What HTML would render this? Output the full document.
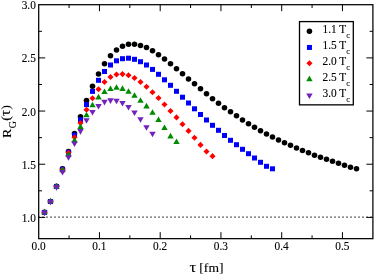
<!DOCTYPE html><html><head><meta charset="utf-8"><style>html,body{margin:0;padding:0;background:#fff;overflow:hidden}svg{display:block;will-change:transform}text{font-family:"Liberation Serif",serif;fill:#000;stroke:#000;stroke-width:0.12px;stroke-linejoin:round}</style></head><body>
<svg width="374" height="276" viewBox="0 0 374 276">
<rect width="374" height="276" fill="#fff"/>
<line x1="38.4" y1="217.1" x2="372.9" y2="217.1" stroke="#000" stroke-width="1.3" stroke-dasharray="1.2 2.8"/>
<g fill="#000000">
<circle cx="44.50" cy="212.40" r="2.78"/>
<circle cx="50.50" cy="201.50" r="2.78"/>
<circle cx="56.50" cy="186.30" r="2.78"/>
<circle cx="62.50" cy="168.90" r="2.78"/>
<circle cx="68.50" cy="151.60" r="2.78"/>
<circle cx="74.50" cy="133.50" r="2.78"/>
<circle cx="80.50" cy="116.70" r="2.78"/>
<circle cx="86.50" cy="100.50" r="2.78"/>
<circle cx="92.50" cy="86.20" r="2.78"/>
<circle cx="98.50" cy="74.00" r="2.78"/>
<circle cx="104.50" cy="63.70" r="2.78"/>
<circle cx="110.50" cy="55.80" r="2.78"/>
<circle cx="116.50" cy="50.00" r="2.78"/>
<circle cx="122.50" cy="46.20" r="2.78"/>
<circle cx="128.50" cy="44.20" r="2.78"/>
<circle cx="134.50" cy="44.20" r="2.78"/>
<circle cx="140.50" cy="45.50" r="2.78"/>
<circle cx="146.50" cy="47.50" r="2.78"/>
<circle cx="152.50" cy="50.80" r="2.78"/>
<circle cx="158.50" cy="54.70" r="2.78"/>
<circle cx="164.50" cy="59.00" r="2.78"/>
<circle cx="170.50" cy="63.80" r="2.78"/>
<circle cx="176.50" cy="68.80" r="2.78"/>
<circle cx="182.50" cy="73.80" r="2.78"/>
<circle cx="188.50" cy="79.00" r="2.78"/>
<circle cx="194.50" cy="83.80" r="2.78"/>
<circle cx="200.50" cy="88.80" r="2.78"/>
<circle cx="206.50" cy="93.80" r="2.78"/>
<circle cx="212.50" cy="98.70" r="2.78"/>
<circle cx="218.50" cy="103.30" r="2.78"/>
<circle cx="224.50" cy="107.70" r="2.78"/>
<circle cx="230.50" cy="111.80" r="2.78"/>
<circle cx="236.50" cy="115.80" r="2.78"/>
<circle cx="242.50" cy="120.00" r="2.78"/>
<circle cx="248.50" cy="123.70" r="2.78"/>
<circle cx="254.50" cy="127.20" r="2.78"/>
<circle cx="260.50" cy="130.70" r="2.78"/>
<circle cx="266.50" cy="134.00" r="2.78"/>
<circle cx="272.50" cy="137.00" r="2.78"/>
<circle cx="278.50" cy="140.00" r="2.78"/>
<circle cx="284.50" cy="142.70" r="2.78"/>
<circle cx="290.50" cy="145.20" r="2.78"/>
<circle cx="296.50" cy="148.00" r="2.78"/>
<circle cx="302.50" cy="150.50" r="2.78"/>
<circle cx="308.50" cy="152.80" r="2.78"/>
<circle cx="314.50" cy="155.20" r="2.78"/>
<circle cx="320.50" cy="157.20" r="2.78"/>
<circle cx="326.50" cy="159.30" r="2.78"/>
<circle cx="332.50" cy="161.30" r="2.78"/>
<circle cx="338.50" cy="163.20" r="2.78"/>
<circle cx="344.50" cy="165.30" r="2.78"/>
<circle cx="350.50" cy="167.20" r="2.78"/>
<circle cx="356.50" cy="168.70" r="2.78"/>
</g>
<g fill="#0000ff">
<rect x="42.00" y="209.90" width="5" height="5"/>
<rect x="48.00" y="199.00" width="5" height="5"/>
<rect x="54.00" y="184.00" width="5" height="5"/>
<rect x="60.00" y="166.80" width="5" height="5"/>
<rect x="66.00" y="149.80" width="5" height="5"/>
<rect x="72.00" y="132.70" width="5" height="5"/>
<rect x="78.00" y="117.20" width="5" height="5"/>
<rect x="84.00" y="102.10" width="5" height="5"/>
<rect x="90.00" y="88.90" width="5" height="5"/>
<rect x="96.00" y="77.80" width="5" height="5"/>
<rect x="102.00" y="69.00" width="5" height="5"/>
<rect x="108.00" y="62.50" width="5" height="5"/>
<rect x="114.00" y="58.30" width="5" height="5"/>
<rect x="120.00" y="56.20" width="5" height="5"/>
<rect x="126.00" y="55.70" width="5" height="5"/>
<rect x="132.00" y="56.80" width="5" height="5"/>
<rect x="138.00" y="59.20" width="5" height="5"/>
<rect x="144.00" y="62.50" width="5" height="5"/>
<rect x="150.00" y="66.90" width="5" height="5"/>
<rect x="156.00" y="71.80" width="5" height="5"/>
<rect x="162.00" y="77.30" width="5" height="5"/>
<rect x="168.00" y="82.80" width="5" height="5"/>
<rect x="174.00" y="88.80" width="5" height="5"/>
<rect x="180.00" y="94.70" width="5" height="5"/>
<rect x="186.00" y="100.50" width="5" height="5"/>
<rect x="192.00" y="106.30" width="5" height="5"/>
<rect x="198.00" y="112.00" width="5" height="5"/>
<rect x="204.00" y="117.50" width="5" height="5"/>
<rect x="210.00" y="122.80" width="5" height="5"/>
<rect x="216.00" y="127.80" width="5" height="5"/>
<rect x="222.00" y="133.00" width="5" height="5"/>
<rect x="228.00" y="137.80" width="5" height="5"/>
<rect x="234.00" y="142.20" width="5" height="5"/>
<rect x="240.00" y="146.80" width="5" height="5"/>
<rect x="246.00" y="151.20" width="5" height="5"/>
<rect x="252.00" y="155.50" width="5" height="5"/>
<rect x="258.00" y="159.80" width="5" height="5"/>
<rect x="264.00" y="163.80" width="5" height="5"/>
<rect x="270.00" y="166.30" width="5" height="5"/>
</g>
<g fill="#ff0000">
<path d="M44.50 209.35L47.55 212.40L44.50 215.45L41.45 212.40Z"/>
<path d="M50.50 198.45L53.55 201.50L50.50 204.55L47.45 201.50Z"/>
<path d="M56.50 183.55L59.55 186.60L56.50 189.65L53.45 186.60Z"/>
<path d="M62.50 166.85L65.55 169.90L62.50 172.95L59.45 169.90Z"/>
<path d="M68.50 149.65L71.55 152.70L68.50 155.75L65.45 152.70Z"/>
<path d="M74.50 134.15L77.55 137.20L74.50 140.25L71.45 137.20Z"/>
<path d="M80.50 119.95L83.55 123.00L80.50 126.05L77.45 123.00Z"/>
<path d="M86.50 106.65L89.55 109.70L86.50 112.75L83.45 109.70Z"/>
<path d="M92.50 95.25L95.55 98.30L92.50 101.35L89.45 98.30Z"/>
<path d="M98.50 86.15L101.55 89.20L98.50 92.25L95.45 89.20Z"/>
<path d="M104.50 78.95L107.55 82.00L104.50 85.05L101.45 82.00Z"/>
<path d="M110.50 73.95L113.55 77.00L110.50 80.05L107.45 77.00Z"/>
<path d="M116.50 71.45L119.55 74.50L116.50 77.55L113.45 74.50Z"/>
<path d="M122.50 71.05L125.55 74.10L122.50 77.15L119.45 74.10Z"/>
<path d="M128.50 72.25L131.55 75.30L128.50 78.35L125.45 75.30Z"/>
<path d="M134.50 74.95L137.55 78.00L134.50 81.05L131.45 78.00Z"/>
<path d="M140.50 78.95L143.55 82.00L140.50 85.05L137.45 82.00Z"/>
<path d="M146.50 83.75L149.55 86.80L146.50 89.85L143.45 86.80Z"/>
<path d="M152.50 89.15L155.55 92.20L152.50 95.25L149.45 92.20Z"/>
<path d="M158.50 94.95L161.55 98.00L158.50 101.05L155.45 98.00Z"/>
<path d="M164.50 101.45L167.55 104.50L164.50 107.55L161.45 104.50Z"/>
<path d="M170.50 107.95L173.55 111.00L170.50 114.05L167.45 111.00Z"/>
<path d="M176.50 114.35L179.55 117.40L176.50 120.45L173.45 117.40Z"/>
<path d="M182.50 121.15L185.55 124.20L182.50 127.25L179.45 124.20Z"/>
<path d="M188.50 127.85L191.55 130.90L188.50 133.95L185.45 130.90Z"/>
<path d="M194.50 134.75L197.55 137.80L194.50 140.85L191.45 137.80Z"/>
<path d="M200.50 141.85L203.55 144.90L200.50 147.95L197.45 144.90Z"/>
<path d="M206.50 148.45L209.55 151.50L206.50 154.55L203.45 151.50Z"/>
<path d="M212.50 153.10L215.55 156.15L212.50 159.20L209.45 156.15Z"/>
</g>
<g fill="#008b00">
<path d="M44.50 208.70L47.70 214.25L41.30 214.25Z"/>
<path d="M50.50 197.80L53.70 203.35L47.30 203.35Z"/>
<path d="M56.50 183.10L59.70 188.65L53.30 188.65Z"/>
<path d="M62.50 166.80L65.70 172.35L59.30 172.35Z"/>
<path d="M68.50 151.17L71.70 156.72L65.30 156.72Z"/>
<path d="M74.50 137.07L77.70 142.62L71.30 142.62Z"/>
<path d="M80.50 123.37L83.70 128.92L77.30 128.92Z"/>
<path d="M86.50 111.67L89.70 117.22L83.30 117.22Z"/>
<path d="M92.50 101.67L95.70 107.22L89.30 107.22Z"/>
<path d="M98.50 93.87L101.70 99.42L95.30 99.42Z"/>
<path d="M104.50 88.47L107.70 94.02L101.30 94.02Z"/>
<path d="M110.50 85.47L113.70 91.02L107.30 91.02Z"/>
<path d="M116.50 84.17L119.70 89.72L113.30 89.72Z"/>
<path d="M122.50 85.37L125.70 90.92L119.30 90.92Z"/>
<path d="M128.50 88.17L131.70 93.72L125.30 93.72Z"/>
<path d="M134.50 92.17L137.70 97.72L131.30 97.72Z"/>
<path d="M140.50 97.17L143.70 102.72L137.30 102.72Z"/>
<path d="M146.50 102.87L149.70 108.42L143.30 108.42Z"/>
<path d="M152.50 109.17L155.70 114.72L149.30 114.72Z"/>
<path d="M158.50 116.47L161.70 122.02L155.30 122.02Z"/>
<path d="M164.50 124.47L167.70 130.02L161.30 130.02Z"/>
<path d="M170.50 132.87L173.70 138.42L167.30 138.42Z"/>
<path d="M176.50 138.47L179.70 144.02L173.30 144.02Z"/>
</g>
<g fill="#7221bc">
<path d="M44.50 216.10L47.70 210.55L41.30 210.55Z"/>
<path d="M50.50 205.30L53.70 199.75L47.30 199.75Z"/>
<path d="M56.50 190.83L59.70 185.28L53.30 185.28Z"/>
<path d="M62.50 175.53L65.70 169.98L59.30 169.98Z"/>
<path d="M68.50 160.83L71.70 155.28L65.30 155.28Z"/>
<path d="M74.50 146.93L77.70 141.38L71.30 141.38Z"/>
<path d="M80.50 134.63L83.70 129.08L77.30 129.08Z"/>
<path d="M86.50 123.83L89.70 118.28L83.30 118.28Z"/>
<path d="M92.50 115.43L95.70 109.88L89.30 109.88Z"/>
<path d="M98.50 109.58L101.70 104.03L95.30 104.03Z"/>
<path d="M104.50 105.38L107.70 99.83L101.30 99.83Z"/>
<path d="M110.50 103.88L113.70 98.33L107.30 98.33Z"/>
<path d="M116.50 104.18L119.70 98.63L113.30 98.63Z"/>
<path d="M122.50 106.58L125.70 101.03L119.30 101.03Z"/>
<path d="M128.50 110.43L131.70 104.88L125.30 104.88Z"/>
<path d="M134.50 115.93L137.70 110.38L131.30 110.38Z"/>
<path d="M140.50 122.73L143.70 117.18L137.30 117.18Z"/>
<path d="M146.50 130.73L149.70 125.18L143.30 125.18Z"/>
<path d="M152.50 137.23L155.70 131.68L149.30 131.68Z"/>
</g>
<rect x="38.7" y="4.7" width="334.2" height="233.95000000000002" fill="none" stroke="#000" stroke-width="1.25"/>
<g stroke="#000" stroke-width="1">
<line x1="69.08" y1="238.65" x2="69.08" y2="235.35"/>
<line x1="69.08" y1="4.7" x2="69.08" y2="8.0"/>
<line x1="99.45" y1="238.65" x2="99.45" y2="232.15"/>
<line x1="99.45" y1="4.7" x2="99.45" y2="11.2"/>
<line x1="129.83" y1="238.65" x2="129.83" y2="235.35"/>
<line x1="129.83" y1="4.7" x2="129.83" y2="8.0"/>
<line x1="160.20" y1="238.65" x2="160.20" y2="232.15"/>
<line x1="160.20" y1="4.7" x2="160.20" y2="11.2"/>
<line x1="190.57" y1="238.65" x2="190.57" y2="235.35"/>
<line x1="190.57" y1="4.7" x2="190.57" y2="8.0"/>
<line x1="220.95" y1="238.65" x2="220.95" y2="232.15"/>
<line x1="220.95" y1="4.7" x2="220.95" y2="11.2"/>
<line x1="251.33" y1="238.65" x2="251.33" y2="235.35"/>
<line x1="251.33" y1="4.7" x2="251.33" y2="8.0"/>
<line x1="281.70" y1="238.65" x2="281.70" y2="232.15"/>
<line x1="281.70" y1="4.7" x2="281.70" y2="11.2"/>
<line x1="312.07" y1="238.65" x2="312.07" y2="235.35"/>
<line x1="312.07" y1="4.7" x2="312.07" y2="8.0"/>
<line x1="342.45" y1="238.65" x2="342.45" y2="232.15"/>
<line x1="342.45" y1="4.7" x2="342.45" y2="11.2"/>
<line x1="38.7" y1="217.40" x2="45.2" y2="217.40"/>
<line x1="372.9" y1="217.40" x2="366.4" y2="217.40"/>
<line x1="38.7" y1="164.23" x2="45.2" y2="164.23"/>
<line x1="372.9" y1="164.23" x2="366.4" y2="164.23"/>
<line x1="38.7" y1="111.06" x2="45.2" y2="111.06"/>
<line x1="372.9" y1="111.06" x2="366.4" y2="111.06"/>
<line x1="38.7" y1="57.89" x2="45.2" y2="57.89"/>
<line x1="372.9" y1="57.89" x2="366.4" y2="57.89"/>
<line x1="38.7" y1="190.81" x2="42.0" y2="190.81"/>
<line x1="372.9" y1="190.81" x2="369.59999999999997" y2="190.81"/>
<line x1="38.7" y1="137.65" x2="42.0" y2="137.65"/>
<line x1="372.9" y1="137.65" x2="369.59999999999997" y2="137.65"/>
<line x1="38.7" y1="84.47" x2="42.0" y2="84.47"/>
<line x1="372.9" y1="84.47" x2="369.59999999999997" y2="84.47"/>
<line x1="38.7" y1="31.31" x2="42.0" y2="31.31"/>
<line x1="372.9" y1="31.31" x2="369.59999999999997" y2="31.31"/>
</g>
<g font-size="12.6px">
<text transform="translate(38.70,250.1) scale(0.9,1)" text-anchor="middle">0.0</text>
<text transform="translate(99.45,250.1) scale(0.9,1)" text-anchor="middle">0.1</text>
<text transform="translate(160.20,250.1) scale(0.9,1)" text-anchor="middle">0.2</text>
<text transform="translate(220.95,250.1) scale(0.9,1)" text-anchor="middle">0.3</text>
<text transform="translate(281.70,250.1) scale(0.9,1)" text-anchor="middle">0.4</text>
<text transform="translate(342.45,250.1) scale(0.9,1)" text-anchor="middle">0.5</text>
<text transform="translate(35.8,222.00) scale(0.9,1)" text-anchor="end">1.0</text>
<text transform="translate(35.8,168.83) scale(0.9,1)" text-anchor="end">1.5</text>
<text transform="translate(35.8,115.66) scale(0.9,1)" text-anchor="end">2.0</text>
<text transform="translate(35.8,62.49) scale(0.9,1)" text-anchor="end">2.5</text>
<text transform="translate(35.8,9.32) scale(0.9,1)" text-anchor="end">3.0</text>
</g>
<g style="stroke-width:0.25px">
<text transform="translate(189.5,272) scale(1.18,1)" font-size="14px">τ</text>
<text transform="translate(199.35,272) scale(1.045,1)" font-size="13px">[fm]</text>
<text transform="translate(10.6,137.9) rotate(-90) scale(1.06,1)" font-size="13.2px">R</text>
<text transform="translate(16.0,128.27) rotate(-90)" font-size="10px">G</text>
<text transform="translate(9.95,120.74) rotate(-90) scale(1.06,0.93)" font-size="13.2px">(</text>
<text transform="translate(10.1,115.9) rotate(-90) scale(1.08,1)" font-size="14px">τ</text>
<text transform="translate(9.95,109.65) rotate(-90) scale(1.06,0.93)" font-size="13.2px">)</text>
</g>
<rect x="299.5" y="21.6" width="53.8" height="83.25" fill="#fff" stroke="#000" stroke-width="1.3"/>
<g fill="#000000"><circle cx="309.45" cy="31.30" r="2.78"/></g>
<text transform="translate(322.5,32.80) scale(0.89,1)" font-size="12.8px">1.1 T<tspan font-size="9px" dy="4.9">c</tspan></text>
<g fill="#0000ff"><rect x="306.95" y="44.95" width="5" height="5"/></g>
<text transform="translate(322.5,48.95) scale(0.89,1)" font-size="12.8px">1.5 T<tspan font-size="9px" dy="4.9">c</tspan></text>
<g fill="#ff0000"><path d="M309.45 60.25L312.50 63.30L309.45 66.35L306.40 63.30Z"/></g>
<text transform="translate(322.5,64.80) scale(0.89,1)" font-size="12.8px">2.0 T<tspan font-size="9px" dy="4.9">c</tspan></text>
<g fill="#008b00"><path d="M309.45 75.60L312.65 81.15L306.25 81.15Z"/></g>
<text transform="translate(322.5,80.80) scale(0.89,1)" font-size="12.8px">2.5 T<tspan font-size="9px" dy="4.9">c</tspan></text>
<g fill="#7221bc"><path d="M309.45 99.00L312.65 93.45L306.25 93.45Z"/></g>
<text transform="translate(322.5,96.80) scale(0.89,1)" font-size="12.8px">3.0 T<tspan font-size="9px" dy="4.9">c</tspan></text>
</svg></body></html>
